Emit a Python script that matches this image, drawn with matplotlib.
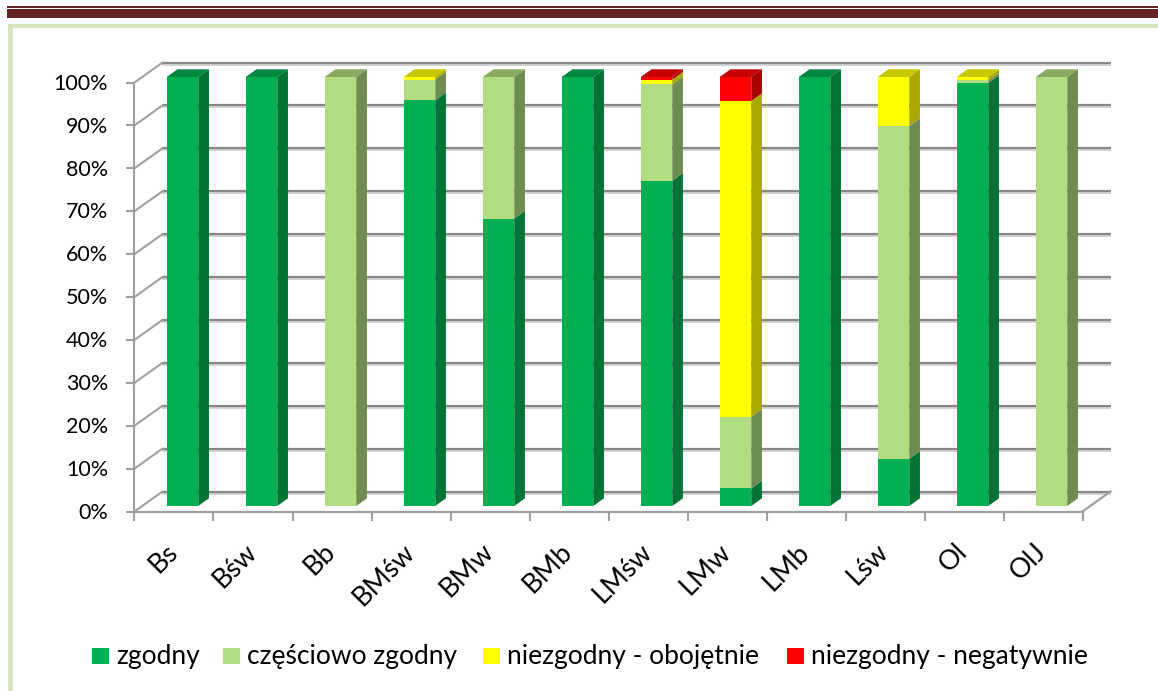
import matplotlib
matplotlib.use("Agg")
import matplotlib.pyplot as plt
from matplotlib.patches import Rectangle, Polygon

plt.rcParams['font.family'] = ['Lato', 'DejaVu Sans']

# ---------------- data ----------------
categories = ['Bs', 'Bśw', 'Bb', 'BMśw', 'BMw', 'BMb', 'LMśw', 'LMw', 'LMb', 'Lśw', 'Ol', 'OlJ']
zgodny = [100, 100, 0, 94.6, 67, 100, 75.8, 4.1, 100, 11.0, 98.6, 0]
czesciowo = [0, 0, 100, 4.8, 33, 0, 22.5, 16.7, 0, 77.6, 0.6, 100]
obojetnie = [0, 0, 0, 0.6, 0, 0, 1.1, 73.6, 0, 11.4, 0.8, 0]
negatywnie = [0, 0, 0, 0, 0, 0, 0.6, 5.6, 0, 0, 0, 0]
series_names = ['zgodny', 'częściowo zgodny', 'niezgodny - obojętnie', 'niezgodny - negatywnie']
y_ticks = [0, 10, 20, 30, 40, 50, 60, 70, 80, 90, 100]
y_tick_labels = [f'{v}%' for v in y_ticks]

series = [zgodny, czesciowo, obojetnie, negatywnie]
front_cols = ['#00B050', '#B1DD80', '#FFFF00', '#FF0000']
side_cols = ['#007335', '#6F8C50', '#A8A800', '#A80000']
top_cols = ['#00883F', '#8AAA62', '#C8C800', '#C40000']

# ---------------- geometry ----------------
W, H = 1158, 691
PX, PY = 79.0, 4.29          # pixels per category / per percent
X0 = (0 - 143) / PX - 0.5
X1 = (W - 143) / PX - 0.5
Y1 = 506 / PY
Y0 = (506 - H) / PY

def ddx(p):
    return p / PX

def ddy(p):
    return -p / PY

fig = plt.figure(figsize=(W / 100, H / 100), dpi=100)
ax = fig.add_axes([0, 0, 1, 1])
ax.set_xlim(X0, X1)
ax.set_ylim(Y0, Y1)
ax.axis('off')

n = len(categories)
fx, fy = ddx(-8.5), ddy(5.5)      # front plane offset
bx, by = ddx(19.5), ddy(-14.5)    # back wall offset
left_f, right_f = -0.5 + fx, n - 0.5 + fx
left_b, right_b = -0.5 + bx, n - 0.5 + bx

grid_c = '#878787'
shadow_c = '#CFCFCF'
# back wall gridlines and left wall diagonals
for p in y_ticks:
    ax.plot([left_b, right_b], [p + by + ddy(2), p + by + ddy(2)], color=shadow_c, lw=1.3, zorder=1,
            solid_capstyle='butt')
    ax.plot([left_b, right_b], [p + by, p + by], color=grid_c, lw=1.6, zorder=2, solid_capstyle='butt')
    ax.plot([left_f, left_b], [p + fy, p + by], color='#A0A0A0', lw=1.5, zorder=2)
    ax.plot([left_f - ddx(7), left_f], [p + fy, p + fy], color='#A0A0A0', lw=1.5, zorder=2)

# front vertical axis
ax.plot([left_f, left_f], [fy, 100 + fy], color='#A0A0A0', lw=1.5, zorder=2)
# floor front edge + ticks
ax.plot([left_f, right_f], [fy, fy], color='#A0A0A0', lw=1.6, zorder=2)
for k in range(n + 1):
    xk = -0.5 + k + fx
    ax.plot([xk, xk], [fy, fy + ddy(8)], color='#A0A0A0', lw=1.5, zorder=2)
ax.plot([right_f, right_b], [fy, by], color='#A0A0A0', lw=1.6, zorder=2)

# bars
bw = 31.5 / PX
sdx, sdy = ddx(10.7), ddy(-7.7)
x = list(range(n))
bottoms = [0.0] * n
for s, vals in enumerate(series):
    ax.bar(x, vals, width=bw, bottom=bottoms, color=front_cols[s], edgecolor='none',
           zorder=5, label=series_names[s])
    for i in range(n):
        v = vals[i]
        if v <= 0:
            continue
        b, t = bottoms[i], bottoms[i] + v
        xr = i + bw / 2
        ax.add_patch(Polygon([(xr, b), (xr + sdx, b + sdy), (xr + sdx, t + sdy), (xr, t)],
                             closed=True, facecolor=side_cols[s], edgecolor='none', zorder=4))
    bottoms = [bottoms[i] + vals[i] for i in range(n)]

# top faces (colour of topmost non-empty segment)
for i in range(n):
    top_s = max(s for s in range(len(series)) if series[s][i] > 0)
    t = bottoms[i]
    xl, xr = i - bw / 2, i + bw / 2
    ax.add_patch(Polygon([(xl, t), (xl + sdx, t + sdy), (xr + sdx, t + sdy), (xr, t)],
                         closed=True, facecolor=top_cols[top_s], edgecolor='none', zorder=6))

# y tick labels
for p, lab in zip(y_ticks, y_tick_labels):
    ax.text((108 - 143) / PX - 0.5, p + fy - 0.3, lab, ha='right', va='center', fontsize=15.5,
            color='#000000')

# x tick labels
for i, lab in enumerate(categories):
    ax.text(i + 0.0, ddy(539 - 506), lab, ha='right', va='top', rotation=45, fontsize=19.5,
            rotation_mode='default', color='#000000')

# legend (manual, Excel style)
leg_y = 656.5
sq_x = [92, 223, 483, 787]
for s in range(4):
    ax.add_patch(Rectangle((ddx(sq_x[s] - 143) - 0.5, ddy(664 - 506)), ddx(17), ddy(-16),
                           facecolor=front_cols[s], edgecolor='none', zorder=5))
    ax.text(ddx(sq_x[s] + 24 - 143) - 0.5, ddy(leg_y - 506), series_names[s], ha='left',
            va='center', fontsize=19, color='#000000')

# page decoration: dark red rules and light green frame
def fig_rect(x0, y0, x1, y1, color):
    fig.add_artist(Rectangle((x0 / W, 1 - y1 / H), (x1 - x0) / W, (y1 - y0) / H,
                             transform=fig.transFigure, facecolor=color, edgecolor='none'))

fig_rect(7, 5.7, W, 7.7, '#632423')
fig_rect(7, 9, W, 17.5, '#632423')
fig_rect(8, 24.3, W, 28.3, '#D8E4BC')
fig_rect(8, 24.3, 13.3, H, '#D8E4BC')

fig.savefig('out.png', dpi=100)
